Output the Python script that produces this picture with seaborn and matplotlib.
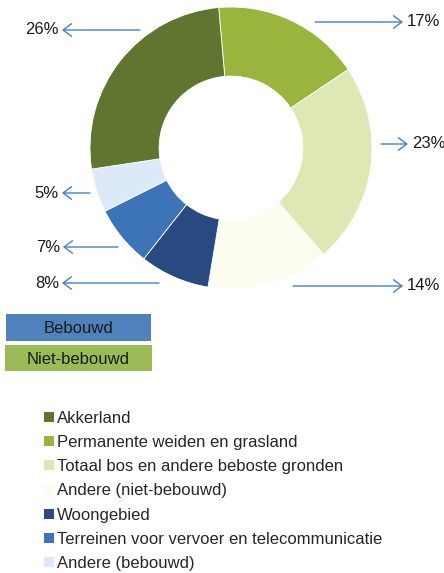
import matplotlib
matplotlib.use("Agg")
import matplotlib.pyplot as plt
from matplotlib.patches import Patch, Rectangle
import seaborn as sns

# data
categories = ['Permanente weiden en grasland', 'Totaal bos en andere beboste gronden',
              'Andere (niet-bebouwd)', 'Woongebied',
              'Terreinen voor vervoer en telecommunicatie', 'Andere (bebouwd)', 'Akkerland']
shares = [17, 23, 14, 8, 7, 5, 26]
colors = ['#9ab53e', '#dee8b4', '#fcfcef', '#284a80', '#3d74b8', '#dce9f8', '#5f7530']
legend_order = ['Akkerland', 'Permanente weiden en grasland', 'Totaal bos en andere beboste gronden',
                'Andere (niet-bebouwd)', 'Woongebied',
                'Terreinen voor vervoer en telecommunicatie', 'Andere (bebouwd)']
groups = ['Bebouwd', 'Niet-bebouwd']
group_colors = ['#4f81bd', '#9bbb59']

sns.set_theme(style='white')
plt.rcParams['font.family'] = ['Liberation Sans', 'DejaVu Sans']

W, H = 444, 573
fig = plt.figure(figsize=(W / 100, H / 100), dpi=100)

# donut, centre (231,148) px, radius 141 px
cx, cy, r = 231, 148, 141
ax = fig.add_axes([(cx - r) / W, (H - cy - r) / H, 2 * r / W, 2 * r / H])
ax.pie(shares, colors=colors, startangle=95, counterclock=False, radius=1,
       wedgeprops=dict(width=0.49, edgecolor='white', linewidth=0.6))
ax.set_xlim(-1, 1)
ax.set_ylim(-1, 1)
ax.set_aspect('equal')
ax.axis('off')

# overlay in pixel coordinates for arrows, labels and boxes
ov = fig.add_axes([0, 0, 1, 1])
ov.set_xlim(0, W)
ov.set_ylim(H, 0)
ov.axis('off')

# arrow start/end x, y and label side for each slice
arrow_pos = [(315, 403, 22, 'r'), (381, 408, 144, 'r'), (293, 403, 286, 'r'),
             (159, 62, 283, 'l'), (118, 63, 247, 'l'), (90, 62, 193, 'l'), (140, 62, 30, 'l')]
for v, (x0, x1, y, side) in zip(shares, arrow_pos):
    ov.annotate('', xy=(x1, y), xytext=(x0, y),
                arrowprops=dict(arrowstyle='->,head_length=0.6,head_width=0.45',
                                color='#4a7ebb', lw=1, mutation_scale=10,
                                shrinkA=0, shrinkB=0))
    if side == 'r':
        ov.text(x1 + 4, y, f'{v}%', ha='left', va='center', fontsize=12, color='#1a1a1a')
    else:
        ov.text(x1 - 3, y, f'{v}%', ha='right', va='center', fontsize=12, color='#1a1a1a')

# group boxes
box_pos = [(6, 314, 145, 27), (5, 345, 147, 26)]
for g, c, (x, y, w, h) in zip(groups, group_colors, box_pos):
    ov.add_patch(Rectangle((x, y), w, h, facecolor=c, edgecolor='none'))
    ov.text(x + w / 2, y + h / 2 + 1, g, ha='center', va='center', fontsize=12, color='#1a1a1a')

# legend
col_map = dict(zip(categories, colors))
handles = [Patch(facecolor=col_map[c], edgecolor='none') for c in legend_order]
fig.legend(handles, legend_order, loc='upper left', bbox_to_anchor=(44 / W, 1 - 411 / H),
           frameon=False, fontsize=12, handlelength=0.6, handleheight=0.55,
           handletextpad=0.2, labelspacing=0.55, borderpad=0, borderaxespad=0)

fig.savefig('out.png', dpi=100, facecolor='white')
